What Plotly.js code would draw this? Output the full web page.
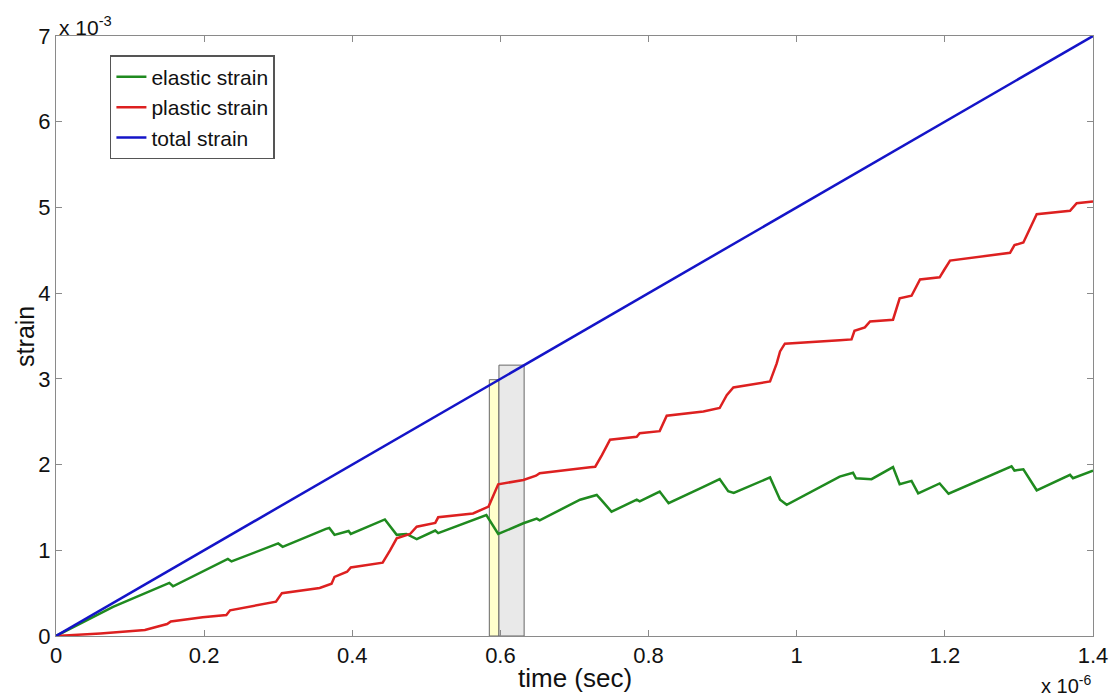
<!DOCTYPE html>
<html>
<head>
<meta charset="utf-8">
<script src="https://cdn.plot.ly/plotly-3.0.1.min.js"></script>
<style>html,body{margin:0;padding:0;background:#fff;}#chart{width:1112px;height:696px;}</style>
</head>
<body>
<div id="chart"></div>
<script>
// time in units of 1e-6 s, strain in units of 1e-3
const totalTime = [0, 1.4];
const totalStrain = [0, 7];

const plasticTime = [0, 0.06, 0.12, 0.15, 0.155, 0.198, 0.23, 0.235, 0.297, 0.305, 0.356, 0.372, 0.376, 0.393, 0.398, 0.441, 0.451, 0.46, 0.478, 0.487, 0.512, 0.516, 0.563, 0.584, 0.597, 0.631, 0.648, 0.653, 0.721, 0.728, 0.737, 0.748, 0.784, 0.788, 0.815, 0.8245, 0.874, 0.896, 0.9055, 0.9145, 0.964, 0.973, 0.9775, 0.984, 1.058, 1.074, 1.078, 1.092, 1.099, 1.13, 1.139, 1.155, 1.1665, 1.193, 1.199, 1.207, 1.288, 1.294, 1.306, 1.315, 1.324, 1.369, 1.378, 1.4];
const plasticStrain = [0, 0.03, 0.07, 0.14, 0.17, 0.22, 0.245, 0.30, 0.40, 0.50, 0.56, 0.61, 0.69, 0.75, 0.80, 0.855, 1.00, 1.14, 1.19, 1.275, 1.32, 1.385, 1.43, 1.51, 1.77, 1.82, 1.87, 1.90, 1.97, 1.975, 2.11, 2.29, 2.325, 2.365, 2.39, 2.57, 2.62, 2.66, 2.81, 2.90, 2.97, 3.18, 3.32, 3.41, 3.45, 3.46, 3.56, 3.60, 3.67, 3.69, 3.94, 3.97, 4.16, 4.185, 4.27, 4.38, 4.47, 4.56, 4.59, 4.75, 4.92, 4.96, 5.05, 5.07];

const elasticTime = [0, 0.077, 0.153, 0.158, 0.232, 0.237, 0.30, 0.306, 0.3645, 0.369, 0.376, 0.395, 0.398, 0.444, 0.46, 0.473, 0.487, 0.512, 0.516, 0.581, 0.597, 0.631, 0.649, 0.653, 0.7075, 0.73, 0.737, 0.75, 0.784, 0.788, 0.815, 0.827, 0.874, 0.896, 0.9075, 0.915, 0.964, 0.9775, 0.9865, 1.058, 1.076, 1.08, 1.101, 1.13, 1.139, 1.155, 1.164, 1.193, 1.205, 1.29, 1.294, 1.306, 1.324, 1.369, 1.373, 1.4];
const elasticStrain = [0, 0.34, 0.62, 0.58, 0.90, 0.87, 1.08, 1.04, 1.25, 1.26, 1.18, 1.225, 1.19, 1.36, 1.18, 1.19, 1.13, 1.23, 1.20, 1.41, 1.19, 1.315, 1.37, 1.35, 1.59, 1.645, 1.58, 1.45, 1.59, 1.57, 1.685, 1.55, 1.74, 1.83, 1.69, 1.67, 1.85, 1.59, 1.53, 1.86, 1.905, 1.84, 1.83, 1.97, 1.77, 1.81, 1.665, 1.78, 1.66, 1.98, 1.93, 1.945, 1.70, 1.88, 1.84, 1.93];

// highlighted intervals: [start, end, height]
const yellowBand = [0.585, 0.598, 2.99];
const grayBand = [0.598, 0.632, 3.16];

const xTicks = [0, 0.2, 0.4, 0.6, 0.8, 1, 1.2, 1.4];
const xTickText = ['0', '0.2', '0.4', '0.6', '0.8', '1', '1.2', '1.4'];
const yTicks = [0, 1, 2, 3, 4, 5, 6, 7];
const yTickText = ['0', '1', '2', '3', '4', '5', '6', '7'];

const FONT = 'Liberation Sans, Arial, sans-serif';

const traces = [
  {x: elasticTime, y: elasticStrain, type: 'scatter', mode: 'lines', name: 'elastic strain',
   line: {color: '#1f8a1f', width: 2.5}},
  {x: plasticTime, y: plasticStrain, type: 'scatter', mode: 'lines', name: 'plastic strain',
   line: {color: '#dd2020', width: 2.5}},
  {x: totalTime, y: totalStrain, type: 'scatter', mode: 'lines', name: 'total strain',
   line: {color: '#1414c8', width: 2.5}}
];

const axisCommon = {
  showgrid: false, zeroline: false, showline: true, linecolor: '#8a8a8a', linewidth: 1,
  mirror: 'ticks', ticks: 'inside', ticklen: 6, tickcolor: '#8a8a8a', tickwidth: 1,
  tickfont: {family: FONT, size: 22, color: '#111'}, fixedrange: true
};

const layout = {
  width: 1112, height: 696,
  margin: {l: 56, r: 19, t: 36, b: 60},
  paper_bgcolor: '#fff', plot_bgcolor: '#fff',
  font: {family: FONT, color: '#111'},
  xaxis: Object.assign({}, axisCommon, {range: [0, 1.4], tickmode: 'array', tickvals: xTicks, ticktext: xTickText}),
  yaxis: Object.assign({}, axisCommon, {range: [0, 7], tickmode: 'array', tickvals: yTicks, ticktext: yTickText}),
  showlegend: true,
  legend: {x: 0.052, y: 0.968, xanchor: 'left', yanchor: 'top', bgcolor: '#fff',
    bordercolor: '#555', borderwidth: 1.5, font: {family: FONT, size: 21, color: '#111'},
    itemwidth: 30, tracegroupgap: 0},
  shapes: [
    {type: 'rect', xref: 'x', yref: 'y', x0: yellowBand[0], x1: yellowBand[1], y0: 0, y1: yellowBand[2],
     fillcolor: '#ffffcc', line: {color: '#666', width: 1}, layer: 'below'},
    {type: 'rect', xref: 'x', yref: 'y', x0: grayBand[0], x1: grayBand[1], y0: 0, y1: grayBand[2],
     fillcolor: '#e9e9e9', line: {color: '#666', width: 1}, layer: 'below'}
  ],
  annotations: [
    {text: 'time (sec)', xref: 'paper', yref: 'paper', x: 0.5, y: -0.07, xanchor: 'center', yanchor: 'middle',
     showarrow: false, font: {family: FONT, size: 26, color: '#111'}},
    {text: 'strain', xref: 'paper', yref: 'paper', x: -0.03, y: 0.5, xanchor: 'center', yanchor: 'middle',
     textangle: -90, showarrow: false, font: {family: FONT, size: 25, color: '#111'}},
    {text: 'x 10<sup>-3</sup>', xref: 'paper', yref: 'paper', x: 0.001, y: 1.017, xanchor: 'left', yanchor: 'middle',
     showarrow: false, font: {family: FONT, size: 21, color: '#111'}},
    {text: 'x 10<sup>-6</sup>', xref: 'paper', yref: 'paper', x: 1.0, y: -0.08, xanchor: 'right', yanchor: 'middle',
     showarrow: false, font: {family: FONT, size: 20, color: '#111'}}
  ]
};

Plotly.newPlot('chart', traces, layout, {displayModeBar: false, staticPlot: true});
</script>
</body>
</html>
